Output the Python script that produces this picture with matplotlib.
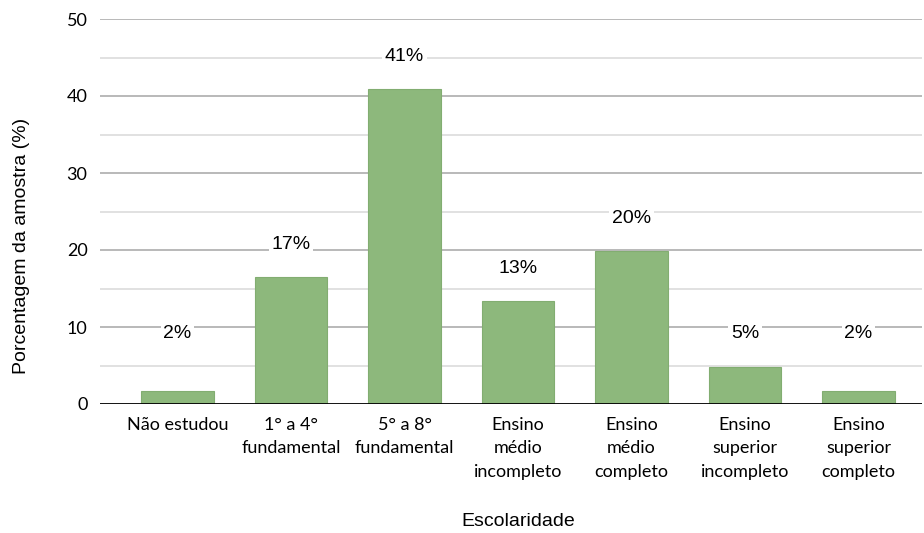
import matplotlib
matplotlib.use("Agg")
import matplotlib.pyplot as plt

categorias = ["Não estudou", "1° a 4°\nfundamental", "5° a 8°\nfundamental",
              "Ensino\nmédio\nincompleto", "Ensino\nmédio\ncompleto",
              "Ensino\nsuperior\nincompleto", "Ensino\nsuperior\ncompleto"]
valores = [1.7, 16.5, 40.9, 13.4, 19.9, 4.8, 1.7]
rotulos = ["2%", "17%", "41%", "13%", "20%", "5%", "2%"]
yticks = [0, 10, 20, 30, 40, 50]

fig = plt.figure(figsize=(9.24, 5.33), dpi=100)
ax = fig.add_axes([100/924, 1 - 404/533, 822/924, 385/533])

x = list(range(len(categorias)))
ax.bar(x, valores, width=0.635, color="#8db87c", edgecolor="#82ad71",
       linewidth=0.8, zorder=3)

# gridlines: major every 10, minor every 5
for y in range(5, 51, 5):
    ax.axhline(y, color="#a6a6a6" if y % 10 == 0 else "#d9d9d9",
               linewidth=1.1, zorder=1)
ax.axhline(0, color="black", linewidth=1.3, zorder=4)

for xi, v, r in zip(x, valores, rotulos):
    ax.text(xi, max(v, 4.9) + 4.2, r, ha="center", va="center",
            fontsize=14, family="Liberation Sans", zorder=5,
            bbox=dict(facecolor="white", edgecolor="none", pad=2))

ax.set_xlim((100 - 177.5) / 113.5, (922 - 177.5) / 113.5)
ax.set_ylim(0, 50)
ax.set_yticks(yticks)
ax.set_xticks(x)
ax.set_xticklabels(categorias, family="Lato", fontsize=13, linespacing=1.6)
for lbl in ax.get_yticklabels():
    lbl.set_family("Lato")
    lbl.set_fontsize(13)
ax.tick_params(length=0, pad=9)
for s in ax.spines.values():
    s.set_visible(False)

fig.text(22/924, 1 - 246/533, "Porcentagem da amostra (%)", rotation=90,
         ha="center", va="center", family="Liberation Sans", fontsize=14)
fig.text(518/924, 1 - 522/533, "Escolaridade", ha="center", va="center",
         family="Liberation Sans", fontsize=14)

fig.savefig("out.png", dpi=100)
